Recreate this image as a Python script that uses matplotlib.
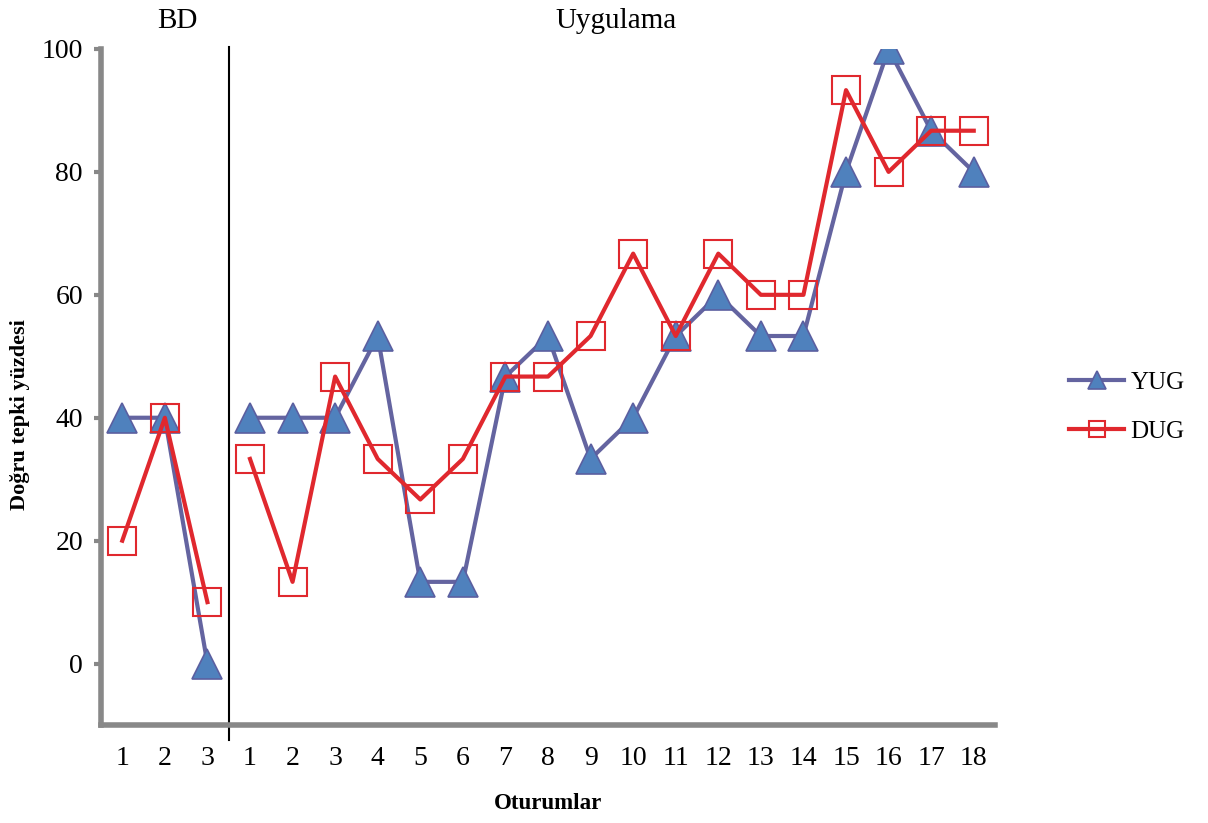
import matplotlib
matplotlib.use("Agg")
import matplotlib.pyplot as plt

# session labels: 3 baseline (BD) + 18 application (Uygulama)
bd_sessions = [1, 2, 3]
app_sessions = list(range(1, 19))

yug_bd = [40, 40, 0]
yug_app = [40, 40, 40, 53.3, 13.3, 13.3, 46.7, 53.3, 33.3, 40, 53.3, 60,
           53.3, 53.3, 80, 100, 86.7, 80]
dug_bd = [20, 40, 10]
dug_app = [33.3, 13.3, 46.7, 33.3, 26.7, 33.3, 46.7, 46.7, 53.3, 66.7, 53.3,
           66.7, 60, 60, 93.3, 80, 86.7, 86.7]

plt.rcParams['font.family'] = ['Liberation Serif', 'DejaVu Serif']

fig = plt.figure(figsize=(12.08, 8.23), dpi=100)
ax = fig.add_axes([0.0836, 0.119, 0.7401, 0.8215])

x_bd = list(range(1, len(bd_sessions) + 1))
x_app = list(range(len(bd_sessions) + 1, len(bd_sessions) + len(app_sessions) + 1))

yug_style = dict(color='#6464A0', lw=3, marker='^', markersize=22,
                 markerfacecolor='#4F81BD', markeredgecolor='#5B5FA0',
                 markeredgewidth=1.2)
dug_style = dict(color='#E0282E', lw=3, marker='s', markersize=20,
                 markerfacecolor='none', markeredgecolor='#E0282E',
                 markeredgewidth=1.5)

ax.plot(x_bd, yug_bd, **yug_style, label='YUG')
ax.plot(x_app, yug_app, **yug_style)
ax.plot(x_bd, dug_bd, **dug_style, label='DUG')
ax.plot(x_app, dug_app, **dug_style)

ax.set_xlim(0.5, len(x_bd) + len(x_app) + 0.5)
ax.set_ylim(-10, 100)
ax.set_yticks([0, 20, 40, 60, 80, 100])
ax.set_xticks(x_bd + x_app)
ax.set_xticklabels([str(s) for s in bd_sessions + app_sessions])
ax.tick_params(axis='x', length=0, labelsize=20, pad=15)
ax.tick_params(axis='y', length=5, width=3, color='#888888', labelsize=20, pad=8)

for side in ['top', 'right']:
    ax.spines[side].set_visible(False)
for side in ['left', 'bottom']:
    ax.spines[side].set_color('#888888')
    ax.spines[side].set_linewidth(4)

# phase divider
ax.plot([3.5, 3.5], [100.3, -12.5], color='black', lw=1.5, clip_on=False)

ax.text(2.3, 104.5, 'BD', ha='center', va='center', fontsize=21)
ax.text(12.6, 104.5, 'Uygulama', ha='center', va='center', fontsize=21)

fig.text(20 / 1208, 0.496, 'Doğru tepki yüzdesi', rotation=90, ha='center',
         va='center', fontsize=16, fontweight='bold')
ax.set_xlabel('Oturumlar', fontsize=16.5, fontweight='bold', labelpad=16)

ax.legend(loc='center left', bbox_to_anchor=(1.058, 0.47), frameon=False,
          fontsize=18, handlelength=2.2, markerscale=0.6, labelspacing=1.05,
          handletextpad=0.25)

fig.savefig('out.png', dpi=100)
